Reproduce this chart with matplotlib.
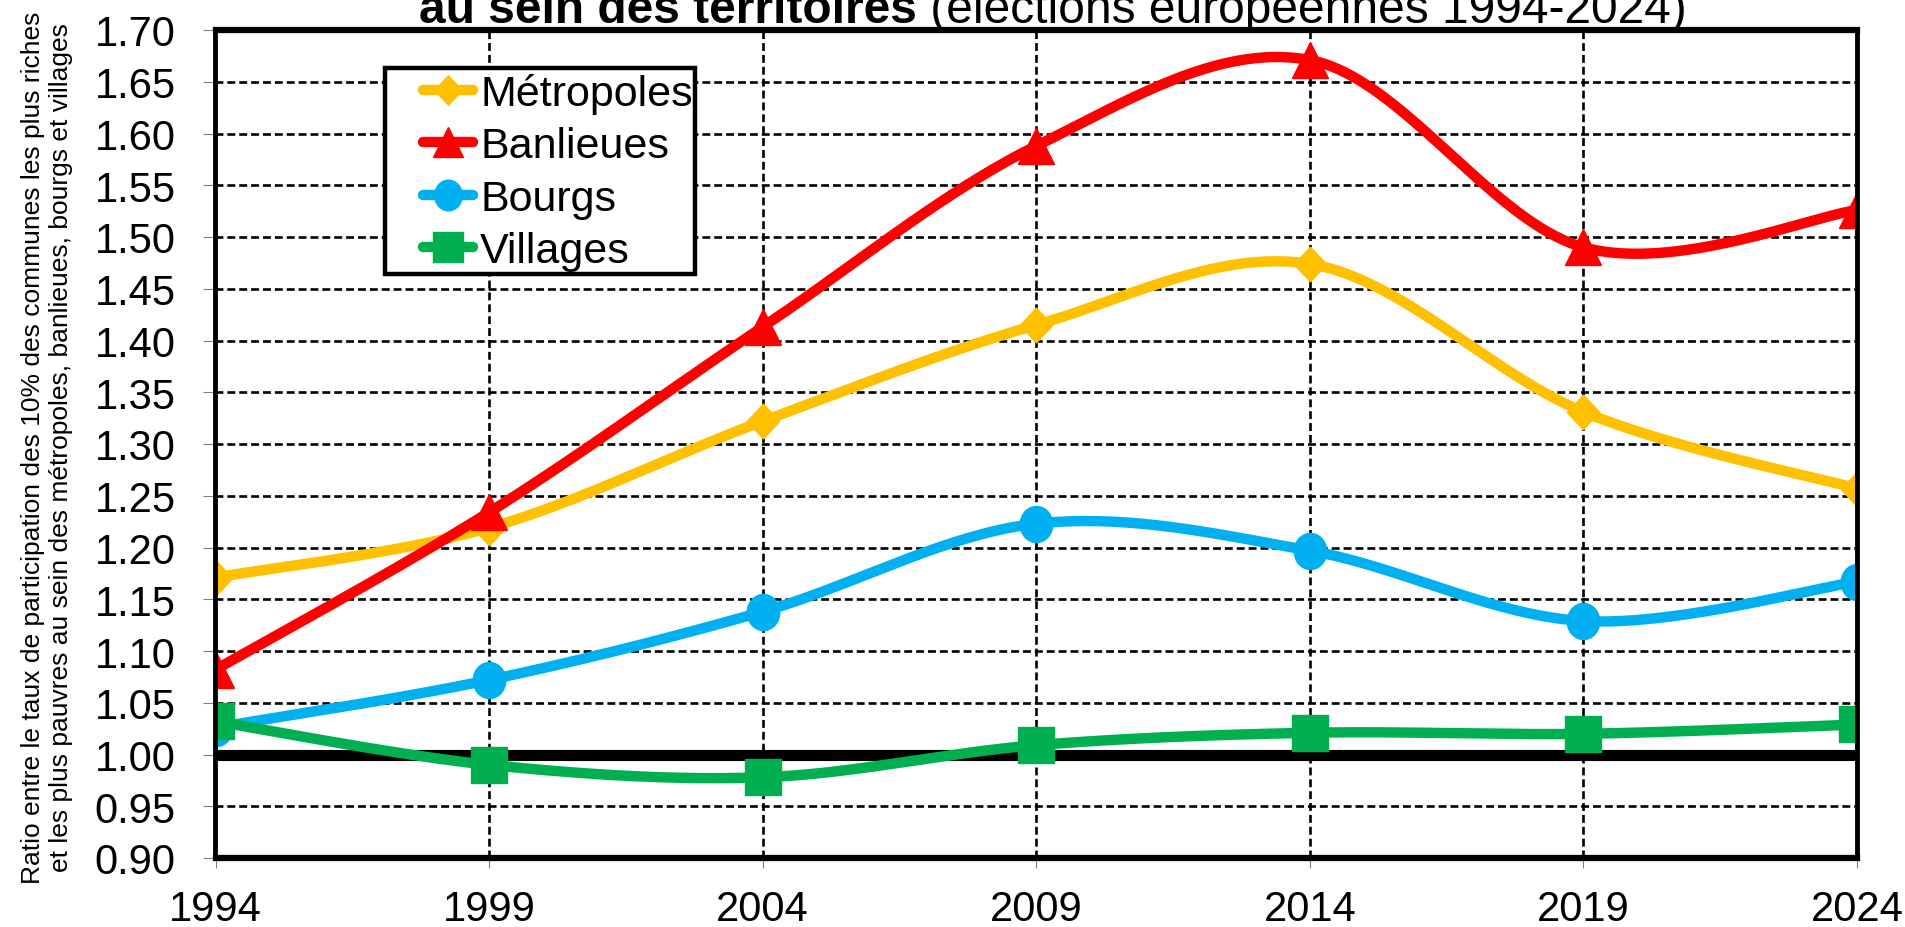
import numpy as np
import matplotlib
matplotlib.use("Agg")
import matplotlib.pyplot as plt
from matplotlib.lines import Line2D
from matplotlib.patches import Rectangle
from matplotlib.path import Path

# Data
years = [1994, 1999, 2004, 2009, 2014, 2019, 2024]
metropoles = [1.171, 1.219, 1.322, 1.415, 1.474, 1.331, 1.257]
banlieues = [1.082, 1.234, 1.413, 1.588, 1.671, 1.490, 1.526]
bourgs = [1.026, 1.072, 1.138, 1.223, 1.197, 1.129, 1.167]
villages = [1.032, 0.990, 0.978, 1.009, 1.021, 1.020, 1.029]

labels = ["Métropoles", "Banlieues", "Bourgs", "Villages"]
colors = ["#FFC000", "#FF0000", "#00B0F0", "#00B050"]

yticks = np.arange(0.90, 1.7001, 0.05)

plt.rcParams['font.family'] = ['Liberation Sans', 'DejaVu Sans']

# marker shapes (Excel style)
diamond = Path([(0, 1), (0.94, 0), (0, -1), (-0.94, 0), (0, 1)],
               [Path.MOVETO, Path.LINETO, Path.LINETO, Path.LINETO, Path.CLOSEPOLY])
ellipse = Path(Path.unit_circle().vertices * np.array([0.9, 1.0]), Path.unit_circle().codes)
square = Path([(-0.97, -1), (0.97, -1), (0.97, 1), (-0.97, 1), (-0.97, -1)],
              [Path.MOVETO, Path.LINETO, Path.LINETO, Path.LINETO, Path.CLOSEPOLY])
markers = [diamond, "^", ellipse, square]
msizes = [25, 26, 26, 26]


def smooth(x, y, n=40):
    # Excel-like smoothed line: cubic Bezier through the points
    x = np.asarray(x, float)
    y = np.asarray(y, float)
    px = np.concatenate([[x[0]], x, [x[-1]]])
    py = np.concatenate([[y[0]], y, [y[-1]]])
    t = np.linspace(0, 1, n)[:, None]
    xs, ys = [], []
    for i in range(len(x) - 1):
        p0 = np.array([px[i + 1], py[i + 1]])
        p3 = np.array([px[i + 2], py[i + 2]])
        c1 = p0 + (p3 - np.array([px[i], py[i]])) / 6
        c2 = p3 - (np.array([px[i + 3], py[i + 3]]) - p0) / 6
        b = (1 - t) ** 3 * p0 + 3 * (1 - t) ** 2 * t * c1 + 3 * (1 - t) * t ** 2 * c2 + t ** 3 * p3
        xs.append(b[:, 0])
        ys.append(b[:, 1])
    return np.concatenate(xs), np.concatenate(ys)


fig = plt.figure(figsize=(19.06, 9.28), dpi=100)
ax = fig.add_axes([215.5 / 1906, 1 - 859 / 928, (1857 - 215.5) / 1906, (859 - 31) / 928])

# grid
dash = (0, (3, 1.5))
for yv in yticks:
    if abs(yv - 1.0) > 1e-6:
        ax.axhline(yv, color="black", lw=1.9, ls=dash, zorder=1)
for xv in years[1:-1]:
    ax.axvline(xv, color="black", lw=1.9, ls=dash, zorder=1)
ax.axhline(1.0, color="black", lw=8, zorder=2)

series = [metropoles, banlieues, bourgs, villages]
for vals, col, mk, ms in zip(series, colors, markers, msizes):
    sx, sy = smooth(years, vals)
    ax.plot(sx, sy, color=col, lw=7.5, solid_capstyle="round", zorder=3)
    ax.plot(years, vals, ls="none", marker=mk, ms=ms, color=col, mec=col, zorder=4)

ax.set_xlim(1994, 2024)
ax.set_ylim(0.90, 1.70)
ax.set_xticks(years)
ax.set_yticks(yticks)
ax.set_yticklabels([f"{v:.2f}" for v in yticks])
ax.tick_params(axis="y", direction="out", length=8.6, width=0.8, color="#808080",
               labelsize=30, pad=20)
ax.tick_params(axis="x", direction="out", length=7, width=0.8, color="#808080",
               labelsize=30, pad=15)
for side in ["top", "bottom"]:
    ax.spines[side].set_linewidth(4.5)
for side in ["left", "right"]:
    ax.spines[side].set_linewidth(3.5)
for s in ax.spines.values():
    s.set_zorder(5)

# legend
handles = [Line2D([], [], color=c, lw=7.5, marker=m, ms=ms * 0.85, mec=c, solid_capstyle="round")
           for c, m, ms in zip(colors, markers, msizes)]
leg = fig.legend(handles, labels, loc="upper left", bbox_to_anchor=(423 / 1906, 1 - 74 / 928),
                 frameon=False, fontsize=31, handlelength=1.15, handletextpad=0.18,
                 labelspacing=0.29, borderpad=0, borderaxespad=0)
fig.patches.append(Rectangle((385 / 1906, 1 - 275 / 928), (695 - 385) / 1906, (275 - 69) / 928,
                             transform=fig.transFigure, fill=True, facecolor="white",
                             edgecolor="black", lw=3.2, zorder=0))

# y label (two lines)
fig.text(47 / 1906, 1 - 448 / 928,
         "Ratio entre le taux de participation des 10% des communes les plus riches\n"
         "et les plus pauvres au sein des métropoles, banlieues, bourgs et villages",
         rotation=90, ha="center", va="center", fontsize=19, linespacing=1.2,
         family=["Liberation Sans Narrow", "Liberation Sans", "DejaVu Sans"])

# title (first line cut off at the top of the image)
t1 = fig.text(419 / 1906, 1 - 23 / 928, "au sein des territoires", fontsize=34.5,
              fontweight="bold", ha="left", va="baseline")
ax.annotate(" (élections européennes 1994-2024)", xy=(1, 0), xycoords=t1,
            fontsize=34.5, ha="left", va="bottom", annotation_clip=False)

fig.savefig("out.png", dpi=100)
